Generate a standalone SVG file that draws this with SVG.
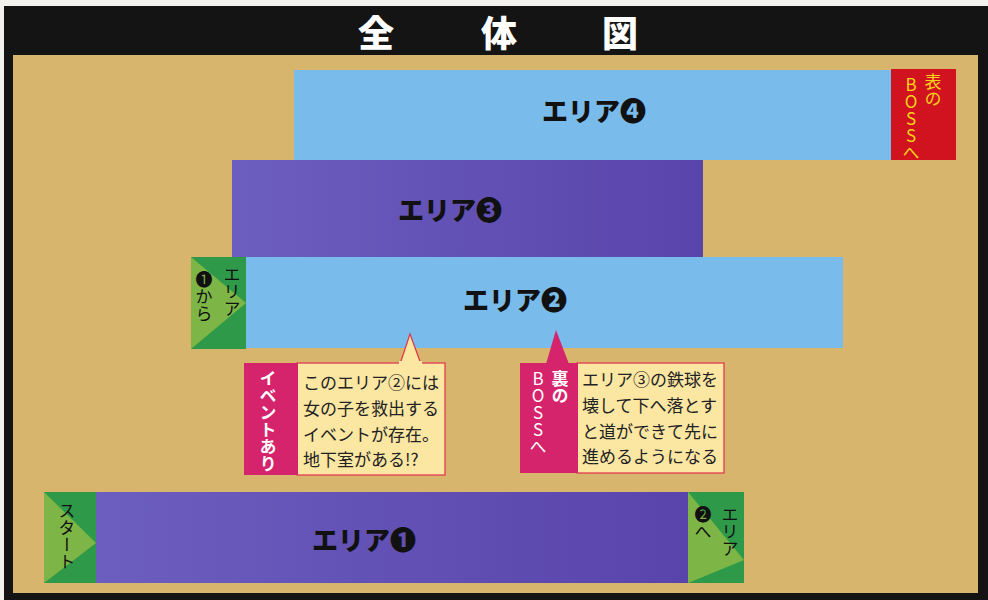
<svg xmlns="http://www.w3.org/2000/svg" width="988" height="600" viewBox="0 0 988 600">
<defs>
<linearGradient id="purple" x1="0" x2="1" y1="0" y2="0">
<stop offset="0" stop-color="#6c5ebf"/><stop offset="1" stop-color="#5944ab"/>
</linearGradient>
<style>
.blue{fill:#79bbea}
.purple{fill:url(#purple)}
.green{fill:#2e9a49}
.lgreen{fill:#7db646}
.red{fill:#d1121f}
.mag{fill:#d5246c}
.note{fill:#fbe6a2;stroke:#e0304c;stroke-width:1.2}
.area{font-family:"Noto Sans CJK JP",sans-serif;font-weight:900;font-size:26px;fill:#111;text-anchor:middle}
.vt{font-family:"Noto Sans CJK JP",sans-serif;writing-mode:vertical-rl;text-orientation:upright;font-size:17px}
.body{font-family:"Noto Sans CJK JP",sans-serif;font-size:17px;fill:#222}
</style>
</defs>
<rect x="0" y="0" width="988" height="600" fill="#f4f2ee"/>
<rect x="4" y="6" width="984" height="594" fill="#141414"/>
<rect x="13" y="55" width="965" height="538" fill="#d8b56c"/>
<g id="title" font-family="Noto Sans CJK JP,sans-serif" font-weight="900" font-size="36" fill="#fff" text-anchor="middle">
<text x="376" y="47">全</text><text x="499" y="47">体</text><text x="620" y="47">図</text>
</g>
<g id="area4">
<rect class="blue" x="294" y="70" width="597" height="90"/>
<text class="area" x="594" y="121">エリア❹</text>
</g>
<g id="omote-boss">
<rect class="red" x="891" y="69" width="65" height="91"/>
<text class="vt" x="933" y="73" fill="#f6d21a">表の</text>
<text class="vt" x="911" y="76" fill="#f6d21a" font-size="18">BOSSへ</text>
</g>
<g id="area3">
<rect class="purple" x="232" y="160" width="471" height="97"/>
<text class="area" x="450" y="220">エリア❸</text>
</g>
<g id="area2">
<rect class="blue" x="246" y="257" width="597" height="91"/>
<text class="area" x="515" y="310">エリア❷</text>
</g>
<g id="from-area1">
<rect class="green" x="191" y="257" width="55" height="92"/>
<polygon class="lgreen" points="191,257 246,303 191,349"/>
<text class="vt" x="232" y="266" fill="#111" font-size="18">エリア</text>
<text class="vt" x="204" y="271" fill="#111" font-size="18">❶から</text>
</g>
<g id="connectors">
<polygon points="400,364 410,334 421,364" fill="#fbe6a2" stroke="#e0304c" stroke-width="1.2"/>
<polygon class="mag" points="546,364 556,330 569,364"/>
</g>
<g id="event-note">
<rect class="note" x="297" y="363" width="148" height="112"/>
<rect x="399" y="361" width="23" height="4" fill="#fbe6a2"/>
<rect class="mag" x="244" y="363" width="54" height="112"/>
<text class="vt" x="268" y="370" fill="#fff" font-size="16" font-weight="bold">イベントあり</text>
<text class="body" x="303" y="389">このエリア②には</text>
<text class="body" x="303" y="415">女の子を救出する</text>
<text class="body" x="303" y="441">イベントが存在。</text>
<text class="body" x="303" y="466">地下室がある!?</text>
</g>
<g id="ura-note">
<rect class="note" x="577" y="363" width="147" height="110"/>
<rect class="mag" x="520" y="363" width="58" height="110"/>
<text class="vt" x="560" y="370" fill="#fff" font-weight="bold">裏の</text>
<text class="vt" x="538" y="370" fill="#fff" font-size="18">BOSSへ</text>
<text class="body" x="582" y="386">エリア③の鉄球を</text>
<text class="body" x="582" y="412">壊して下へ落とす</text>
<text class="body" x="582" y="438">と道ができて先に</text>
<text class="body" x="582" y="463">進めるようになる</text>
</g>
<g id="start">
<rect class="green" x="44" y="492" width="52" height="91"/>
<polygon class="lgreen" points="44,492 96,543 44,583"/>
<text class="vt" x="67" y="502" fill="#111">スタート</text>
</g>
<g id="area1">
<rect class="purple" x="96" y="492" width="592" height="91"/>
<text class="area" x="364" y="550">エリア❶</text>
</g>
<g id="to-area2">
<rect class="green" x="688" y="492" width="56" height="91"/>
<polygon class="lgreen" points="688,492 744,560 688,583"/>
<text class="vt" x="730" y="506" fill="#111" font-size="18">エリア</text>
<text class="vt" x="703" y="506" fill="#111" font-size="18">❷へ</text>
</g>
</svg>
